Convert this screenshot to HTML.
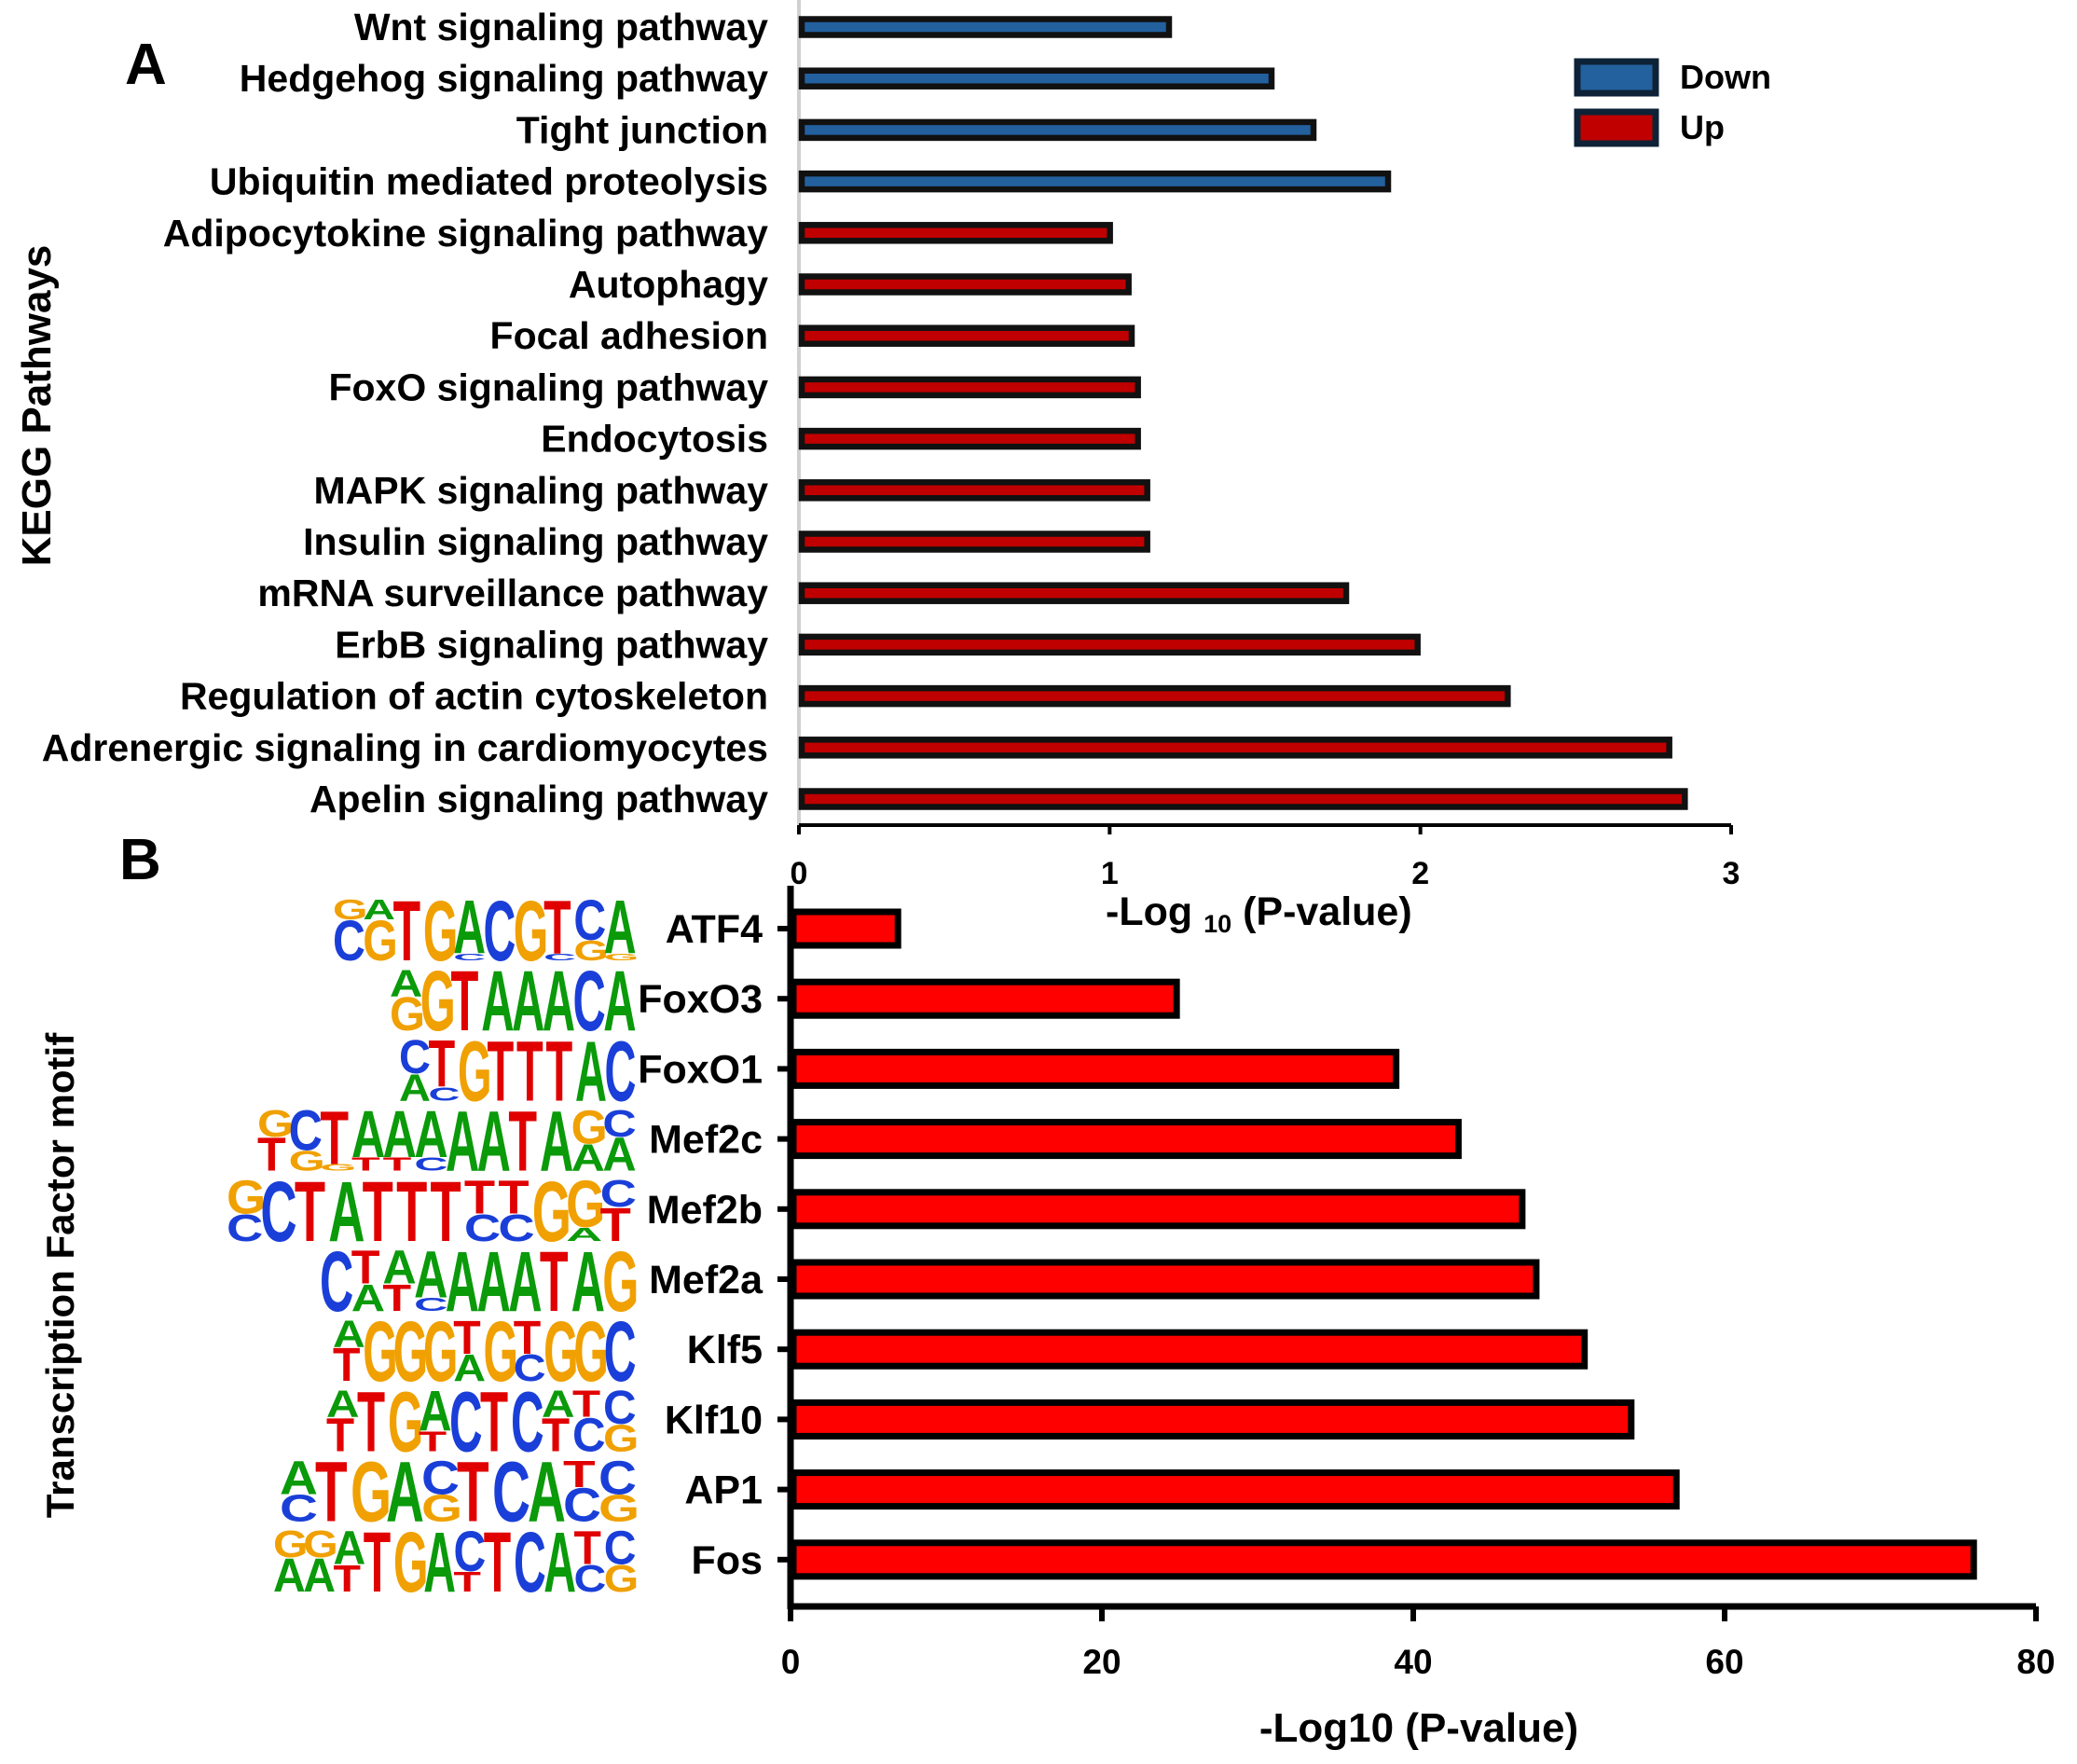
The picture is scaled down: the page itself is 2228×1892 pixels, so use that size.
<!DOCTYPE html>
<html><head><meta charset="utf-8"><style>
html,body{margin:0;padding:0;background:#fff}
svg{display:block}
text{font-family:"Liberation Sans",Arial,sans-serif;font-weight:bold}
</style></head><body>
<svg id="fig" width="2228" height="1892" viewBox="0 0 2228 1892" xmlns="http://www.w3.org/2000/svg">
<g id="panelA"></g>
<g id="panelB"></g>
</svg>
<script>
const NS="http://www.w3.org/2000/svg";
// ---- Panel A data ----
const keggCategories=["Wnt signaling pathway","Hedgehog signaling pathway","Tight junction","Ubiquitin mediated proteolysis","Adipocytokine signaling pathway","Autophagy ","Focal adhesion","FoxO signaling pathway","Endocytosis","MAPK signaling pathway","Insulin signaling pathway","mRNA surveillance pathway","ErbB signaling pathway","Regulation of actin cytoskeleton","Adrenergic signaling in cardiomyocytes","Apelin signaling pathway"];
const keggValues=[1.20,1.53,1.665,1.905,1.01,1.07,1.08,1.10,1.10,1.13,1.13,1.77,2.00,2.29,2.81,2.86];
const keggGroups=["Down","Down","Down","Down","Up","Up","Up","Up","Up","Up","Up","Up","Up","Up","Up","Up"];
const keggTicks=[0,1,2,3];
// ---- Panel B data ----
const tfCategories=["ATF4","FoxO3","FoxO1","Mef2c","Mef2b","Mef2a","Klf5","Klf10","AP1","Fos"];
const tfValues=[6.9,24.8,38.9,42.9,47.0,47.9,51.0,54.0,56.9,76.0];
const tfTicks=[0,20,40,60,80];
const tfMotifs=["GATGACGTCA","AGTAAACA","CTGTTTAC","GCTAAAAATAGC","GCTATTTTTGGC","CTAAAAATAG","AGGGTGTGGC","ATGACTCATC","ATGACTCATC","GGATGACTCATC"];
const tfMotifHeights=["3399899868","49999999","57999999","468777999954","599999955974","9557999999","4999595999","4996999445","5999599945","445999699955"];

function el(tag,attrs,parent,txt){const e=document.createElementNS(NS,tag);for(const k in attrs)e.setAttribute(k,attrs[k]);if(txt!==undefined)e.textContent=txt;parent.appendChild(e);return e;}

// ---- Panel A ----
(function(){
const g=document.getElementById('panelA');
const x0=857,x1=1857,vmax=3;
const xA=v=>x0+(v/vmax)*(x1-x0);
const yA=i=>29+i*55.2;
const axisY=885;
const l=el('line',{x1:x0,y1:0,x2:x0,y2:axisY,stroke:'#d0d0d0','stroke-width':4},g);

keggCategories.forEach((c,i)=>{
  const t=el('text',{x:824,y:yA(i)+14,'font-size':41,'text-anchor':'end',fill:'#000'},g,c);
  
  
  const r=el('rect',{x:x0+3,y:yA(i)-8.5,width:Math.max(0,xA(keggValues[i])-x0-6),height:17,fill:keggGroups[i]==='Down'?'#23609e':'#c00000',stroke:'#111','stroke-width':6.5},g);
  
  
});
const ax=el('line',{x1:x0,y1:axisY,x2:x1,y2:axisY,stroke:'#000','stroke-width':4},g);

keggTicks.forEach(v=>{
  const tk=el('line',{x1:xA(v),y1:axisY,x2:xA(v),y2:axisY+10,stroke:'#000','stroke-width':4},g);
  
  const tl=el('text',{x:xA(v),y:948,'font-size':34,'text-anchor':'middle'},g,String(v));
  
});
const tt=el('text',{x:1186,y:992,'font-size':43},g);

tt.innerHTML='<tspan>-Log </tspan><tspan font-size="27" dy="8">10</tspan><tspan dy="-8"> (P-value)</tspan>';
const yt=el('text',{x:0,y:0,'font-size':44,'text-anchor':'middle',transform:'translate(54,435) rotate(-90)'},g,'KEGG Pathways');

const pa=el('text',{x:134,y:90,'font-size':62},g,'A');

// legend
[['Down','#23609e',63],['Up','#c00000',117]].forEach(d=>{
  const r=el('rect',{x:1692,y:d[2]+3,width:84,height:34,fill:d[1],stroke:'#0d2236','stroke-width':7},g);
  
  const t=el('text',{x:1802,y:d[2]+32,'font-size':36},g,d[0]);
  
});
})();

// ---- Panel B ----
(function(){
const g=document.getElementById('panelB');
const x0=848,x1=2184,vmax=80;
const xB=v=>x0+(v/vmax)*(x1-x0);
const yB=i=>996+i*75.2;
const axisY=1723;
const colors={A:'#0a9a0a',C:'#1a3fd8',G:'#f0a000',T:'#e00000'};
const filler=['C','G','A','T'];
const logoLeft=[357,418,428,276,243,343,357,350,300,293];
const logoRight=680;
tfCategories.forEach((c,i)=>{
  const cy=yB(i);
  const r=el('rect',{x:x0+3,y:cy-18,width:Math.max(0,xB(tfValues[i])-x0-3),height:36,fill:'#ff0000',stroke:'#000','stroke-width':7},g);
  
  
  const tk=el('line',{x1:x0-14,y1:cy,x2:x0,y2:cy,stroke:'#000','stroke-width':6},g);
  
  const t=el('text',{x:818,y:cy+15,'font-size':43,'text-anchor':'end'},g,c);
  
  // motif logo
  const lg=el('g',{},g);
  
  
  const m=tfMotifs[i],hs=tfMotifHeights[i];
  const w=(logoRight-logoLeft[i])/m.length;
  const base=cy+34,full=66;
  for(let k=0;k<m.length;k++){
    const h=full*(+hs[k])/9;
    const lx=logoLeft[i]+k*w;
    const L=el('text',{x:0,y:0,'font-size':100,fill:colors[m[k]],
      transform:`translate(${lx},${base-(full-h)}) scale(${w/67},${h/72})`},lg,m[k]);
    
    
    const rest=full-h;
    if(rest>4){
      const f=filler[(k+i)%4]===m[k]?filler[(k+i+1)%4]:filler[(k+i)%4];
      const F=el('text',{x:0,y:0,'font-size':100,fill:colors[f],
        transform:`translate(${lx},${base}) scale(${w/67},${rest/72})`},lg,f);
      
      
    }
  }
});
const ya=el('line',{x1:x0,y1:950,x2:x0,y2:axisY+3,stroke:'#000','stroke-width':7},g);

const xa=el('line',{x1:x0-3,y1:axisY,x2:x1,y2:axisY,stroke:'#000','stroke-width':7},g);

tfTicks.forEach(v=>{
  const tk=el('line',{x1:xB(v),y1:axisY,x2:xB(v),y2:axisY+16,stroke:'#000','stroke-width':6},g);
  
  const tl=el('text',{x:xB(v),y:1795,'font-size':37,'text-anchor':'middle'},g,String(v));
  
});
const tt=el('text',{x:1522,y:1868,'font-size':44,'text-anchor':'middle'},g,'-Log10 (P-value)');

const yt=el('text',{x:0,y:0,'font-size':42,'text-anchor':'middle',transform:'translate(79,1368) rotate(-90)'},g,'Transcription Factor motif');

const pb=el('text',{x:128,y:943,'font-size':62},g,'B');

})();
</script>
</body></html>
